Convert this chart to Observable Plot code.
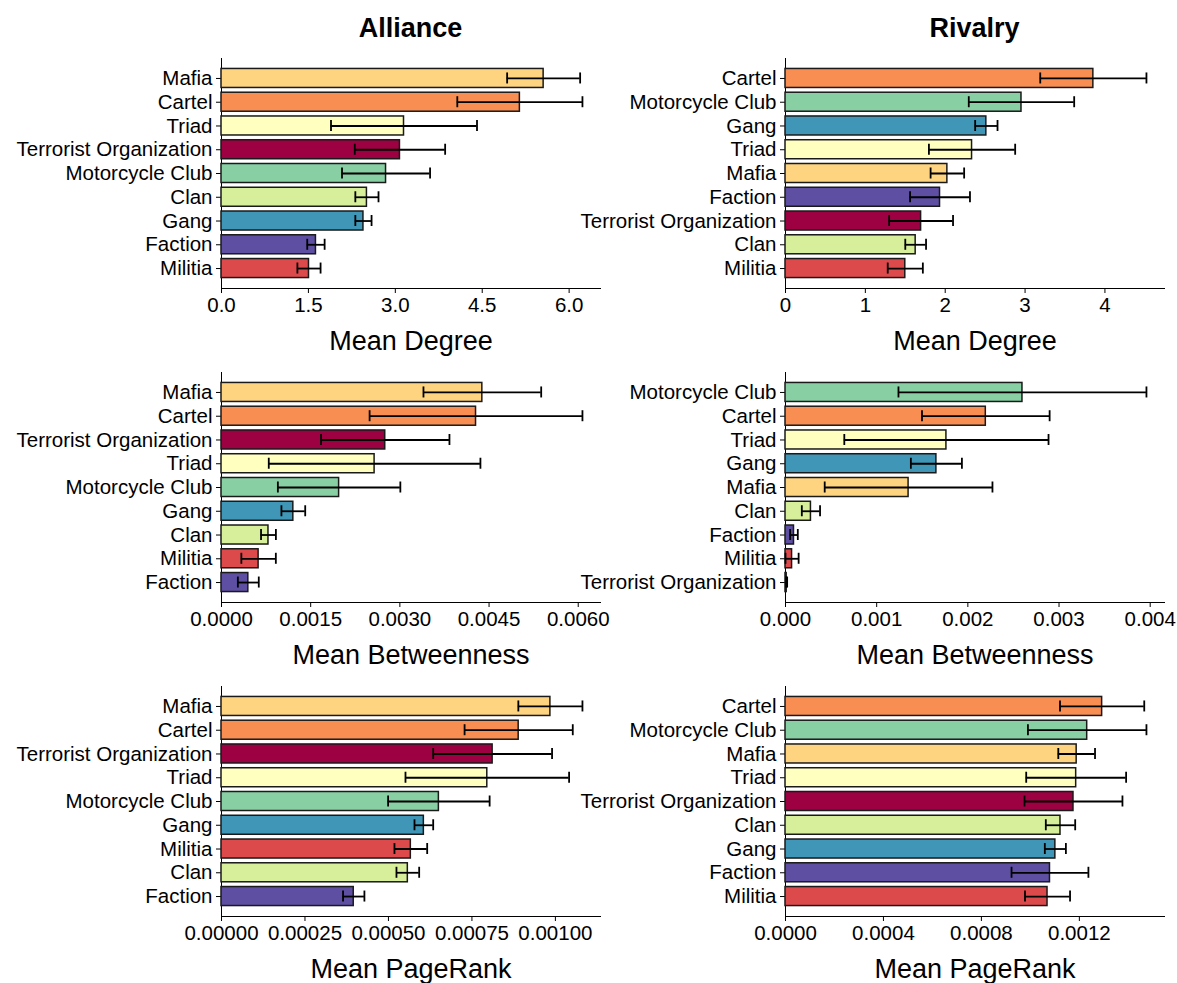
<!DOCTYPE html>
<html>
<head>
<meta charset="utf-8">
<script src="https://cdn.jsdelivr.net/npm/d3@7"></script>
<script src="https://cdn.jsdelivr.net/npm/@observablehq/plot@0.6"></script>
<style>
  body { margin: 0; background: #fff; font-family: "Liberation Sans", Arial, Helvetica, sans-serif; }
  #fig { position: relative; width: 1177px; height: 983px; overflow: hidden; background: #fff; }
  .panel { position: absolute; }
  .title { position: absolute; width: 300px; margin-left: -150px; text-align: center;
           font-weight: bold; font-size: 27px; line-height: 30px; color: #000; }
</style>
</head>
<body>
<div id="fig"></div>
<script>
// Organisation types and their fixed colours (Spectral ramp)
const groups = ["Terrorist Organization", "Militia", "Cartel", "Mafia", "Triad", "Clan", "Motorcycle Club", "Gang", "Faction"];
const groupColors = ["#9e0142", "#dd4a4c", "#f98e52", "#fed480", "#ffffbf", "#d7ef9b", "#88cfa4", "#3f96b7", "#5e4fa2"];

const columnTitles = ["Alliance", "Rivalry"];

// Alliance network — mean degree (± error)
const allianceDegreeGroups = ["Mafia", "Cartel", "Triad", "Terrorist Organization", "Motorcycle Club", "Clan", "Gang", "Faction", "Militia"];
const allianceDegreeMean = [5.56, 5.15, 3.15, 3.08, 2.84, 2.51, 2.45, 1.63, 1.51];
const allianceDegreeErr  = [0.63, 1.08, 1.26, 0.78, 0.76, 0.20, 0.14, 0.15, 0.20];
const allianceDegreeTicks = [0, 1.5, 3.0, 4.5, 6.0];

// Rivalry network — mean degree
const rivalryDegreeGroups = ["Cartel", "Motorcycle Club", "Gang", "Triad", "Mafia", "Faction", "Terrorist Organization", "Clan", "Militia"];
const rivalryDegreeMean = [3.855, 2.955, 2.515, 2.336, 2.027, 1.935, 1.698, 1.630, 1.500];
const rivalryDegreeErr  = [0.665, 0.660, 0.140, 0.540, 0.210, 0.375, 0.400, 0.130, 0.220];
const rivalryDegreeTicks = [0, 1, 2, 3, 4];

// Alliance network — mean betweenness
const allianceBetweenGroups = ["Mafia", "Cartel", "Terrorist Organization", "Triad", "Motorcycle Club", "Gang", "Clan", "Militia", "Faction"];
const allianceBetweenMean = [0.004387, 0.004281, 0.002754, 0.002575, 0.001978, 0.001208, 0.000790, 0.000624, 0.000451];
const allianceBetweenErr  = [0.000990, 0.001790, 0.001080, 0.001780, 0.001030, 0.000200, 0.000125, 0.000290, 0.000176];
const allianceBetweenTicks = [0, 0.0015, 0.0030, 0.0045, 0.0060];

// Rivalry network — mean betweenness
const rivalryBetweenGroups = ["Motorcycle Club", "Cartel", "Triad", "Gang", "Mafia", "Clan", "Faction", "Militia", "Terrorist Organization"];
const rivalryBetweenMean = [0.002599, 0.002197, 0.001765, 0.001655, 0.001350, 0.000279, 0.000093, 0.000072, 0.000013];
const rivalryBetweenErr  = [0.001360, 0.000700, 0.001120, 0.000280, 0.000920, 0.000100, 0.000042, 0.000072, 0.000005];
const rivalryBetweenTicks = [0, 0.001, 0.002, 0.003, 0.004];

// Alliance network — mean PageRank
const alliancePageRankGroups = ["Mafia", "Cartel", "Terrorist Organization", "Triad", "Motorcycle Club", "Gang", "Militia", "Clan", "Faction"];
const alliancePageRankMean = [0.000985, 0.000890, 0.000812, 0.000796, 0.000651, 0.000606, 0.000567, 0.000558, 0.000396];
const alliancePageRankErr  = [0.000096, 0.000162, 0.000178, 0.000245, 0.000152, 0.000028, 0.000049, 0.000034, 0.000032];
const alliancePageRankTicks = [0, 0.00025, 0.0005, 0.00075, 0.001];

// Rivalry network — mean PageRank
const rivalryPageRankGroups = ["Cartel", "Motorcycle Club", "Mafia", "Triad", "Terrorist Organization", "Clan", "Gang", "Faction", "Militia"];
const rivalryPageRankMean = [0.001293, 0.001232, 0.001189, 0.001187, 0.001176, 0.001123, 0.001102, 0.001080, 0.001070];
const rivalryPageRankErr  = [0.000172, 0.000242, 0.000075, 0.000204, 0.000200, 0.000060, 0.000043, 0.000157, 0.000092];
const rivalryPageRankTicks = [0, 0.0004, 0.0008, 0.0012];

const FONT = '"Liberation Sans", Arial, Helvetica, sans-serif';
const fig = document.getElementById("fig");

// Column geometry: SVG left edge, width, left/right margins
const columns = [
  {left: 0,   width: 612, marginLeft: 221, marginRight: 12},
  {left: 575, width: 602, marginLeft: 210, marginRight: 13}
];
const rowTops = [45, 359, 673];
const PANEL_H = 310, MARGIN_TOP = 13, FRAME_H = 230;

function panel(col, row, order, means, errs, ticks, fmt, label) {
  const rows = order.map((g, i) => ({group: g, mean: means[i], lo: means[i] - errs[i], hi: means[i] + errs[i]}));
  const xmax = d3.max(rows, d => d.hi) * 1.05;
  const c = columns[col];
  const chart = Plot.plot({
    width: c.width,
    height: PANEL_H,
    marginLeft: c.marginLeft,
    marginRight: c.marginRight,
    marginTop: MARGIN_TOP,
    marginBottom: PANEL_H - MARGIN_TOP - FRAME_H,
    style: {fontFamily: FONT, fontSize: "20.5px", color: "#000", background: "transparent", overflow: "visible"},
    x: {domain: [0, xmax], ticks, tickFormat: d3.format(fmt), label: null, line: true, tickSize: 5, tickPadding: 4},
    y: {domain: order, paddingInner: 0.2, paddingOuter: 0.44, round: false, label: null, line: true, tickSize: 5, tickPadding: 4},
    color: {domain: groups, range: groupColors},
    marks: [
      Plot.barX(rows, {x: "mean", y: "group", fill: "group", stroke: "#1a1a1a", strokeWidth: 1.5}),
      Plot.ruleY(rows, {x1: "lo", x2: "hi", y: "group", stroke: "#000", strokeWidth: 1.8}),
      Plot.tickX(rows, {x: "lo", y: "group", insetTop: 4, insetBottom: 4, stroke: "#000", strokeWidth: 1.8}),
      Plot.tickX(rows, {x: "hi", y: "group", insetTop: 4, insetBottom: 4, stroke: "#000", strokeWidth: 1.8}),
      Plot.text([label], {text: d => d, frameAnchor: "bottom", lineAnchor: "middle", dy: 53, fontSize: 27, fill: "#000"})
    ]
  });
  chart.classList.add("panel");
  chart.style.left = c.left + "px";
  chart.style.top = rowTops[row] + "px";
  fig.appendChild(chart);
}

panel(0, 0, allianceDegreeGroups, allianceDegreeMean, allianceDegreeErr, allianceDegreeTicks, ".1f", "Mean Degree");
panel(1, 0, rivalryDegreeGroups, rivalryDegreeMean, rivalryDegreeErr, rivalryDegreeTicks, "d", "Mean Degree");
panel(0, 1, allianceBetweenGroups, allianceBetweenMean, allianceBetweenErr, allianceBetweenTicks, ".4f", "Mean Betweenness");
panel(1, 1, rivalryBetweenGroups, rivalryBetweenMean, rivalryBetweenErr, rivalryBetweenTicks, ".3f", "Mean Betweenness");
panel(0, 2, alliancePageRankGroups, alliancePageRankMean, alliancePageRankErr, alliancePageRankTicks, ".5f", "Mean PageRank");
panel(1, 2, rivalryPageRankGroups, rivalryPageRankMean, rivalryPageRankErr, rivalryPageRankTicks, ".4f", "Mean PageRank");

// Column titles centred over each plotting frame
columns.forEach((c, i) => {
  const t = document.createElement("div");
  t.className = "title";
  t.textContent = columnTitles[i];
  t.style.left = (c.left + c.marginLeft + (c.width - c.marginLeft - c.marginRight) / 2) + "px";
  t.style.top = "13px";
  fig.appendChild(t);
});
</script>
</body>
</html>
